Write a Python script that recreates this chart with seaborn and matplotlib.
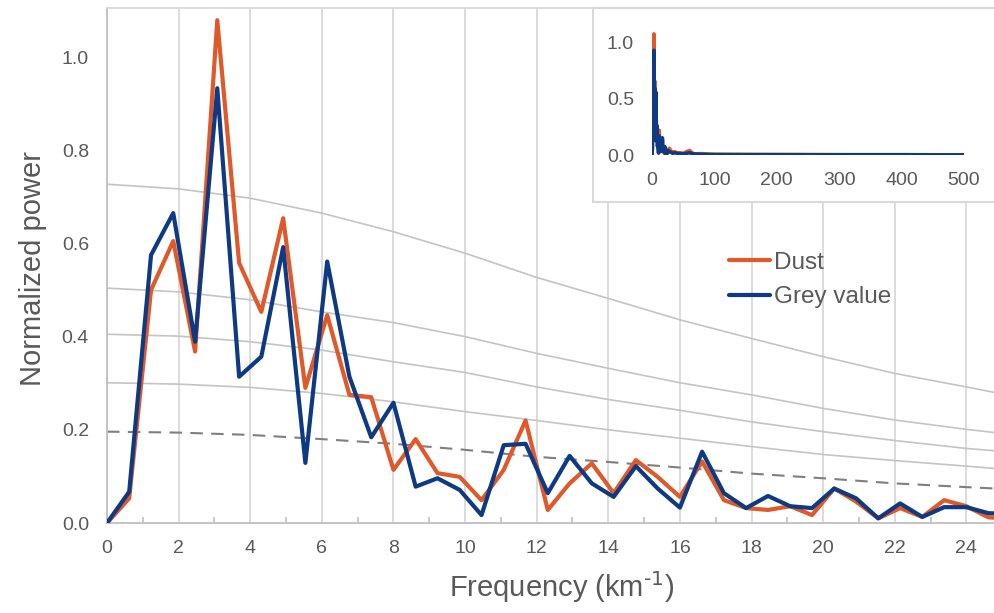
import numpy as np
import pandas as pd
import matplotlib
matplotlib.use("Agg")
import matplotlib.pyplot as plt
import seaborn as sns

# ---------------- data ----------------
freq = [0.00, 0.62, 1.23, 1.85, 2.46, 3.08, 3.69, 4.31, 4.92, 5.54,
        6.15, 6.77, 7.38, 8.00, 8.62, 9.23, 9.85, 10.46, 11.08, 11.69,
        12.31, 12.92, 13.54, 14.15, 14.77, 15.38, 16.00, 16.62, 17.23, 17.85,
        18.46, 19.08, 19.69, 20.31, 20.92, 21.54, 22.15, 22.77, 23.38, 24.00,
        24.62, 25.23]
dust = [0.000, 0.053, 0.500, 0.605, 0.368, 1.079, 0.558, 0.453, 0.654, 0.290,
        0.446, 0.275, 0.270, 0.114, 0.180, 0.107, 0.099, 0.049, 0.114, 0.220,
        0.028, 0.085, 0.128, 0.064, 0.135, 0.099, 0.056, 0.132, 0.049, 0.032,
        0.028, 0.036, 0.017, 0.074, 0.046, 0.010, 0.032, 0.013, 0.049, 0.036,
        0.012, 0.010]
grey = [0.000, 0.067, 0.575, 0.665, 0.389, 0.933, 0.314, 0.357, 0.592, 0.129,
        0.561, 0.314, 0.184, 0.258, 0.078, 0.096, 0.071, 0.017, 0.167, 0.170,
        0.064, 0.144, 0.085, 0.056, 0.122, 0.074, 0.033, 0.153, 0.064, 0.032,
        0.058, 0.036, 0.032, 0.074, 0.053, 0.010, 0.042, 0.013, 0.034, 0.034,
        0.021, 0.020]

# high-frequency tail (only visible in the inset)
tail_freq = [25.85, 27.7, 30.15, 33.2, 36.3, 40.0, 44.9, 50.4, 55.4, 60.3, 65.2,
             70.2, 80.0, 90.4, 100.1, 150.0, 200.0, 250.0, 300.0, 350.0, 400.0,
             450.0, 499.4]
dust_tail = [0.03, 0.06, 0.04, 0.02, 0.03, 0.02, 0.02, 0.015, 0.03, 0.04, 0.015,
             0.01, 0.012, 0.008, 0.006, 0.005, 0.004, 0.004, 0.003, 0.003, 0.003,
             0.002, 0.002]
grey_tail = [0.04, 0.03, 0.025, 0.015, 0.02, 0.015, 0.012, 0.01, 0.015, 0.02, 0.01,
             0.008, 0.006, 0.005, 0.004, 0.003, 0.003, 0.002, 0.002, 0.002, 0.002,
             0.001, 0.001]

# reference (red-noise / confidence) curves
ref_freq = [0, 2, 4, 6, 8, 10, 12, 14, 16, 18, 20, 22, 24, 24.8]
ref_1 = [0.727, 0.717, 0.697, 0.665, 0.625, 0.579, 0.527, 0.482, 0.436, 0.396, 0.357, 0.321, 0.292, 0.280]
ref_2 = [0.504, 0.496, 0.479, 0.453, 0.430, 0.400, 0.364, 0.332, 0.301, 0.275, 0.246, 0.221, 0.201, 0.194]
ref_3 = [0.405, 0.401, 0.389, 0.371, 0.346, 0.323, 0.292, 0.265, 0.242, 0.217, 0.196, 0.177, 0.160, 0.155]
ref_4 = [0.301, 0.298, 0.291, 0.278, 0.260, 0.239, 0.220, 0.200, 0.182, 0.164, 0.147, 0.134, 0.122, 0.117]
ref_dashed = [0.196, 0.194, 0.189, 0.180, 0.170, 0.157, 0.142, 0.131, 0.119, 0.106, 0.096, 0.085, 0.077, 0.074]

series_names = ["Dust", "Grey value"]
x_ticks = [0, 2, 4, 6, 8, 10, 12, 14, 16, 18, 20, 22, 24]
y_ticks = [0.0, 0.2, 0.4, 0.6, 0.8, 1.0]
inset_x_ticks = [0, 100, 200, 300, 400, 500]
inset_y_ticks = [0.0, 0.5, 1.0]

# ---------------- style ----------------
sns.set_theme(style="white")
plt.rcParams["font.family"] = ["Liberation Sans", "DejaVu Sans"]
plt.rcParams["mathtext.default"] = "regular"

ORANGE = "#E0592A"
NAVY = "#0E3A84"
TXT = "#595959"
GRID = "#D9D9D9"
AX = "#BFBFBF"
palette = {"Dust": ORANGE, "Grey value": NAVY}

W, H = 995, 613
fig = plt.figure(figsize=(W / 100, H / 100), dpi=100)

def fx(px):
    return px / W

def fy(py):
    return 1 - py / H

# main axes
ax = fig.add_axes([fx(107), fy(523), fx(995) - fx(107), fy(8) - fy(523)])

df = pd.DataFrame({
    "freq": freq * 2,
    "power": dust + grey,
    "series": [series_names[0]] * len(freq) + [series_names[1]] * len(freq),
})

for curve in [ref_1, ref_2, ref_3, ref_4]:
    sns.lineplot(x=ref_freq, y=curve, ax=ax, color="#C4C4C4", linewidth=1.2,
                 legend=False, zorder=2)
sns.lineplot(x=ref_freq, y=ref_dashed, ax=ax, color="#7F7F7F", linewidth=1.5,
             legend=False, zorder=2).lines[-1].set_dashes([6, 4])

sns.lineplot(data=df, x="freq", y="power", hue="series", palette=palette,
             hue_order=series_names, linewidth=3.0, ax=ax, zorder=3,
             sort=False)

ax.set_xlim(0, 24.8)
ax.set_ylim(0, (523 - 8) / 466)
ax.set_xticks(x_ticks)
ax.set_xticks(np.arange(1, 25, 2), minor=True)
ax.set_yticks(y_ticks)
ax.set_yticklabels([f"{v:.1f}" for v in y_ticks])
ax.set_xticklabels([str(v) for v in x_ticks])
ax.grid(axis="x", which="major", color=GRID, linewidth=1.3, zorder=0)
ax.grid(axis="y", visible=False)
ax.tick_params(axis="x", which="major", direction="out", length=4, width=1.2,
               color=AX, pad=8, labelsize=14, labelcolor=TXT)
ax.tick_params(axis="x", which="minor", direction="in", length=4, width=1.2,
               color=AX, bottom=True)
ax.tick_params(axis="y", length=0, pad=13, labelsize=14, labelcolor=TXT)
for s in ["left", "bottom"]:
    ax.spines[s].set_color(AX)
    ax.spines[s].set_linewidth(1.3)
ax.spines["top"].set_color(GRID)
ax.spines["top"].set_linewidth(1.3)
ax.spines["right"].set_visible(False)

ax.set_xlabel(r"Frequency (km$^{\text{-1}}$)", fontsize=21, color=TXT)
ax.set_ylabel("Normalized power", fontsize=21, color=TXT)
ax.xaxis.label.set_va("center")
ax.yaxis.label.set_va("center")
ax.xaxis.set_label_coords((562 - 107) / 888, (523 - 587) / 515)
ax.yaxis.set_label_coords((33 - 107) / 888, (523 - 268) / 515)

handles, labels = ax.get_legend_handles_labels()
if ax.get_legend():
    ax.get_legend().remove()
leg = fig.legend(handles, labels, loc="center left",
                 bbox_to_anchor=(fx(729), fy(280)), frameon=False,
                 fontsize=17.5, handlelength=1.7, handletextpad=0.15,
                 labelspacing=0.5, borderpad=0, borderaxespad=0)
for t in leg.get_texts():
    t.set_color(TXT)
for l in leg.get_lines():
    l.set_linewidth(3.0)

# inset box
box = fig.add_axes([fx(593), fy(202), 1 - fx(593), fy(8) - fy(202)])
box.set_xticks([])
box.set_yticks([])
box.set_facecolor("white")
for s in box.spines.values():
    s.set_color(GRID)
    s.set_linewidth(1.5)
box.set_zorder(5)

ins = fig.add_axes([fx(652), fy(155), fx(964) - fx(652), fy(31.5) - fy(155)])
ins.set_zorder(6)
ins.patch.set_alpha(0)
full_freq = freq[:-1] + tail_freq
sns.lineplot(x=full_freq, y=dust[:-1] + dust_tail, ax=ins, color=ORANGE,
             linewidth=2.6, sort=False)
sns.lineplot(x=full_freq, y=grey[:-1] + grey_tail, ax=ins, color=NAVY,
             linewidth=2.6, sort=False)
ins.set_xlim(0, 500)
ins.set_ylim(0, 1.1)
ins.set_xticks(inset_x_ticks)
ins.set_yticks(inset_y_ticks)
ins.set_yticklabels([f"{v:.1f}" for v in inset_y_ticks])
ins.tick_params(length=0, labelsize=14, labelcolor=TXT)
ins.tick_params(axis="y", pad=13)
ins.tick_params(axis="x", pad=12)
ins.grid(False)
for s in ins.spines.values():
    s.set_visible(False)
ins.set_xlabel("")
ins.set_ylabel("")

fig.savefig("out.png", dpi=100)
